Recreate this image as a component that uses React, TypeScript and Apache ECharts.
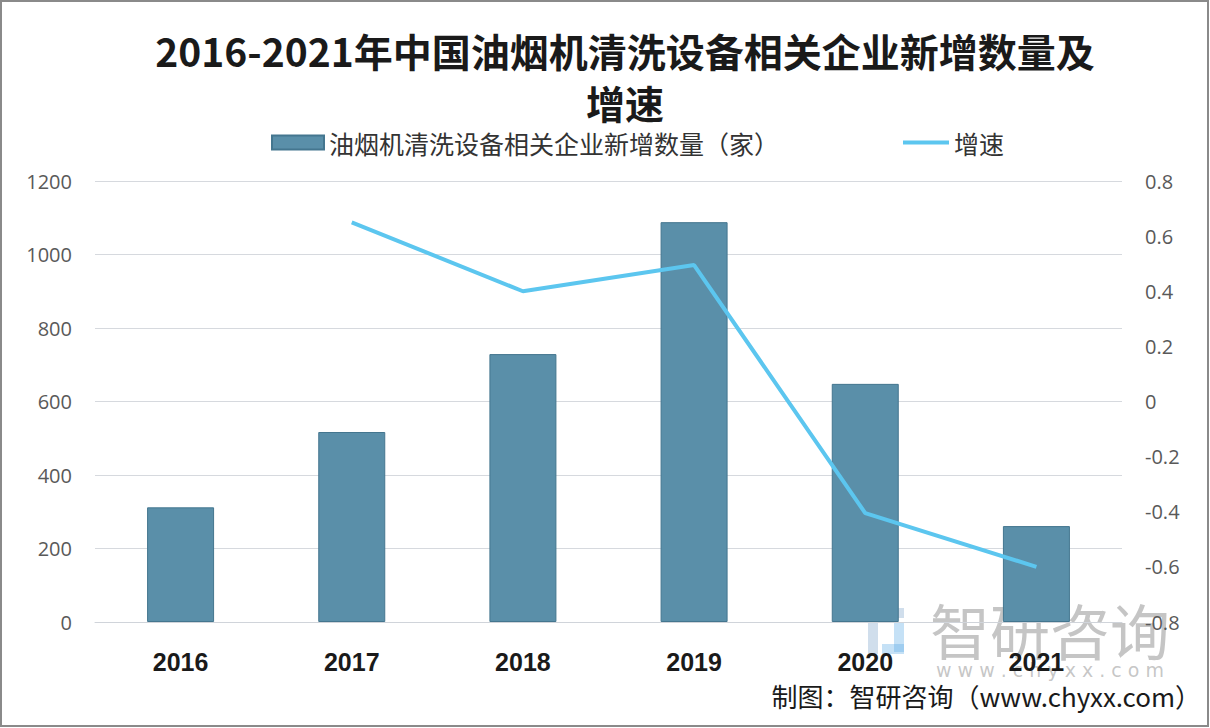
import React, { useEffect, useRef } from "react";
import * as echarts from "echarts";

const categories = ["2016", "2017", "2018", "2019", "2020", "2021"];
const counts = [312, 517, 729, 1088, 648, 261];
const growth: (number | null)[] = [null, 0.65, 0.4, 0.495, -0.405, -0.6];
const leftTicks = { min: 0, max: 1200, interval: 200 };
const rightTicks = { min: -0.8, max: 0.8, interval: 0.2 };
const titleText = "2016-2021年中国油烟机清洗设备相关企业新增数量及\n增速";
const barName = "油烟机清洗设备相关企业新增数量（家）";
const lineName = "增速";
const sourceText = "制图：智研咨询（www.chyxx.com）";

export default function App() {
  const ref = useRef<HTMLDivElement>(null);
  useEffect(() => {
    document.body.style.margin = "0";
    const chart = echarts.init(ref.current!, null, { renderer: "svg" });
    const font = "'Open Sans', 'Noto Sans CJK SC', sans-serif";
    const cjk = "'Noto Sans CJK SC', sans-serif";
    chart.setOption({
      animation: false,
      backgroundColor: "#ffffff",
      textStyle: { fontFamily: font },
      title: {
        text: titleText,
        left: 620,
        textAlign: "center",
        top: 19,
        textStyle: {
          fontSize: 39,
          fontWeight: "bold",
          color: "#1a1a1a",
          lineHeight: 52,
          fontFamily: cjk,
        },
      },
      legend: [
        {
          left: 266,
          top: 125,
          itemWidth: 52,
          itemHeight: 14,
          textStyle: { fontSize: 25, color: "#333", fontFamily: cjk },
          data: [{ name: barName, icon: "rect" }],
        },
        {
          left: 898,
          top: 125,
          itemWidth: 46,
          itemHeight: 4,
          textStyle: { fontSize: 25, color: "#333", fontFamily: cjk },
          data: [{ name: lineName, icon: "rect" }],
        },
      ],
      grid: { left: 95, right: 88, top: 181, bottom: 106 },
      xAxis: {
        type: "category",
        data: categories,
        axisTick: { show: false },
        axisLine: { lineStyle: { color: "#d0d4da" } },
        axisLabel: {
          margin: 27,
          fontSize: 25,
          fontWeight: "bold",
          color: "#1a1a1a",
          fontFamily: "'Liberation Sans', sans-serif",
        },
      },
      yAxis: [
        {
          type: "value",
          ...leftTicks,
          axisLine: { show: false },
          axisTick: { show: false },
          splitLine: { lineStyle: { color: "#d6d9de", width: 1 } },
          axisLabel: {
            margin: 23,
            fontSize: 20,
            color: "#595959",
            formatter: (v: number) => String(v),
          },
        },
        {
          type: "value",
          ...rightTicks,
          axisLine: { show: false },
          axisTick: { show: false },
          splitLine: { show: false },
          axisLabel: {
            margin: 23,
            fontSize: 20,
            color: "#595959",
            formatter: (v: number) => String(Math.round(v * 10) / 10),
          },
        },
      ],
      series: [
        {
          name: barName,
          type: "bar",
          data: counts,
          barWidth: 67,
          itemStyle: { color: "#5a8fa9", borderColor: "#44768f", borderWidth: 1 },
        },
        {
          name: lineName,
          type: "line",
          yAxisIndex: 1,
          data: growth,
          symbol: "none",
          lineStyle: { color: "#5cc6ef", width: 4 },
          itemStyle: { color: "#5cc6ef" },
          z: 5,
        },
      ],
      graphic: [
        {
          type: "rect",
          shape: { x: 1, y: 1, width: 1207, height: 725 },
          style: { fill: "none", stroke: "#8a8a8a", lineWidth: 2 },
          silent: true,
        },
        {
          type: "group",
          left: 868,
          top: 608,
          silent: true,
          children: [
            { type: "rect", shape: { x: 0, y: 0, width: 36, height: 10 }, style: { fill: "rgba(120,160,200,0.35)" } },
            { type: "rect", shape: { x: 0, y: 0, width: 10, height: 46 }, style: { fill: "rgba(120,160,200,0.35)" } },
            { type: "rect", shape: { x: 26, y: 14, width: 10, height: 30 }, style: { fill: "rgba(90,170,230,0.35)" } },
            { type: "rect", shape: { x: 14, y: 36, width: 22, height: 10 }, style: { fill: "rgba(90,170,230,0.35)" } },
          ],
        },
        {
          type: "text",
          left: 930,
          top: 598,
          silent: true,
          style: {
            text: "智研咨询",
            font: "60px 'Noto Sans CJK SC', sans-serif",
            fill: "rgba(150,150,150,0.55)",
          },
        },
        {
          type: "text",
          left: 936,
          top: 660,
          silent: true,
          style: {
            text: "w w w . c h y x x . c o m",
            font: "19px 'DejaVu Sans', sans-serif",
            fill: "rgba(150,150,150,0.55)",
          },
        },
        {
          type: "text",
          right: 9,
          top: 682,
          silent: true,
          style: {
            text: sourceText,
            font: "26px 'Noto Sans CJK SC', sans-serif",
            fill: "#1a1a1a",
          },
        },
      ],
    });
    return () => chart.dispose();
  }, []);
  return <div ref={ref} style={{ width: 1210, height: 728 }} />;
}
